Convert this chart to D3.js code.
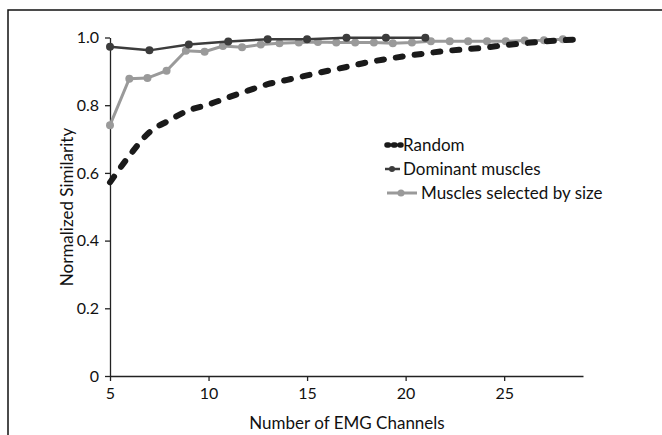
<!DOCTYPE html>
<html><head><meta charset="utf-8">
<script src="https://cdn.jsdelivr.net/npm/d3@7"></script>
<style>body{margin:0;background:#fff}svg{display:block}text{font-family:Lato,"Open Sans",sans-serif;fill:#111}</style>
</head><body><svg id="c" width="662" height="435"></svg>
<script>
const xTicks = [5,10,15,20,25];
const yTicks = [0,0.2,0.4,0.6,0.8,1.0];
const randomX = [5,6,7,8,9,10,11,12,13,14,15,16,17,18,19,20,21,22,23,24,25,26,27,28,29];
const randomY = [0.572,0.652,0.72,0.755,0.785,0.802,0.823,0.843,0.862,0.875,0.888,0.901,0.913,0.926,0.936,0.945,0.953,0.960,0.965,0.970,0.977,0.983,0.988,0.992,0.995];
const dominantX = [5,7,9,11,13,15,17,19,21];
const dominantY = [0.973,0.962,0.979,0.988,0.995,0.995,0.999,0.999,0.999];
const sizeX = [5,5.98,6.9,7.87,8.85,9.8,10.73,11.7,12.65,13.6,14.58,15.55,16.48,17.44,18.39,19.35,20.32,21.28,22.24,23.17,24.13,25.08,26.04,27.02,27.98];
const sizeY = [0.741,0.878,0.880,0.902,0.961,0.958,0.975,0.971,0.979,0.983,0.985,0.987,0.985,0.985,0.985,0.983,0.985,0.989,0.989,0.989,0.989,0.989,0.991,0.992,0.995];
const legendLabels = ["Random","Dominant muscles","Muscles selected by size"];

const svg = d3.select("#c");
svg.append("path").attr("d","M8,435V10H662").attr("fill","none").attr("stroke","#111").attr("stroke-width",1.5);

const x = d3.scaleLinear().domain([5,29]).range([110,583]);
const y = d3.scaleLinear().domain([0,1]).range([376,37.5]);

const xa = svg.append("g").attr("transform","translate(0,376)")
  .call(d3.axisBottom(x).tickValues(xTicks).tickSize(5).tickSizeOuter(0).tickPadding(7));
const ya = svg.append("g").attr("transform","translate(110,0)")
  .call(d3.axisLeft(y).tickValues(yTicks).tickSize(5).tickSizeOuter(0).tickPadding(6)
    .tickFormat(d=>d===0?"0":d3.format(".1f")(d)));
[xa,ya].forEach(g=>{g.select(".domain").attr("stroke","#222").attr("stroke-width",1.3);
  g.selectAll(".tick line").attr("stroke","#222").attr("stroke-width",1.3);
  g.selectAll(".tick text").attr("font-size",16).attr("fill","#111").attr("font-family","Lato,sans-serif");});

svg.append("text").attr("x",347).attr("y",429).attr("text-anchor","middle").attr("font-size",17).text("Number of EMG Channels");
svg.append("text").attr("transform","translate(73,207) rotate(-90)").attr("text-anchor","middle").attr("font-size",17).text("Normalized Similarity");

const line = d3.line().x(d=>x(d[0])).y(d=>y(d[1]));
const rnd = randomX.map((v,i)=>[v,randomY[i]]);
const dom = dominantX.map((v,i)=>[v,dominantY[i]]);
const siz = sizeX.map((v,i)=>[v,sizeY[i]]);

svg.append("path").datum(siz).attr("d",line).attr("fill","none").attr("stroke","#9a9a9a").attr("stroke-width",3);
svg.selectAll(".sz").data(siz).join("circle").attr("cx",d=>x(d[0])).attr("cy",d=>y(d[1])).attr("r",4).attr("fill","#9a9a9a");
svg.append("path").datum(dom).attr("d",line).attr("fill","none").attr("stroke","#3c3c3c").attr("stroke-width",2.5);
svg.selectAll(".dm").data(dom).join("circle").attr("cx",d=>x(d[0])).attr("cy",d=>y(d[1])).attr("r",4).attr("fill","#3c3c3c");
svg.append("path").datum(rnd).attr("d",d3.line().x(d=>x(d[0])).y(d=>y(d[1])).curve(d3.curveMonotoneX)).attr("fill","none").attr("stroke","#1a1a1a")
  .attr("stroke-width",6).attr("stroke-dasharray","7,12").attr("stroke-linecap","round");

const lg = svg.append("g");
lg.append("line").attr("x1",387).attr("x2",401).attr("y1",145).attr("y2",145).attr("stroke","#1a1a1a").attr("stroke-width",5.5).attr("stroke-dasharray","1.5,5").attr("stroke-linecap","round");
lg.append("line").attr("x1",385).attr("x2",400).attr("y1",169).attr("y2",169).attr("stroke","#3c3c3c").attr("stroke-width",2.5);
lg.append("circle").attr("cx",392).attr("cy",169).attr("r",3).attr("fill","#3c3c3c");
lg.append("line").attr("x1",387).attr("x2",417).attr("y1",193).attr("y2",193).attr("stroke","#9a9a9a").attr("stroke-width",3);
lg.append("circle").attr("cx",401).attr("cy",193).attr("r",3.5).attr("fill","#9a9a9a");
const lx = [403,403,421], ly=[145,169,193];
legendLabels.forEach((t,i)=>lg.append("text").attr("x",lx[i]).attr("y",ly[i]).attr("dy","0.35em").attr("font-size",17).text(t));
</script></body></html>
